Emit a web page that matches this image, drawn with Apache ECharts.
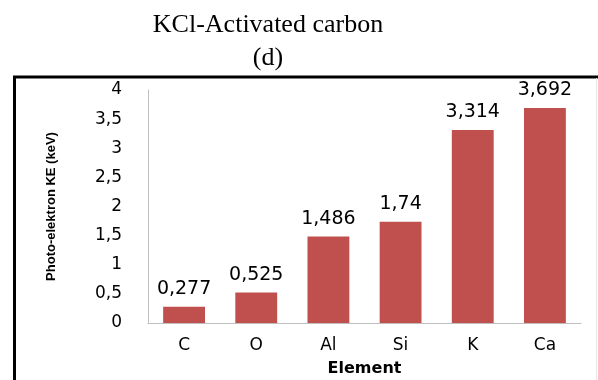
<!DOCTYPE html>
<html>
<head>
<meta charset="utf-8">
<script src="https://cdn.jsdelivr.net/npm/echarts@6/dist/echarts.min.js"></script>
<style>
  html, body { margin: 0; padding: 0; background: #fff; }
  #chart { width: 598px; height: 380px; }
</style>
</head>
<body>
<div id="chart"></div>
<script>
// Photo-electron kinetic energy per element, KCl-activated carbon
const elements = ['C', 'O', 'Al', 'Si', 'K', 'Ca'];
const energyKeV = [0.277, 0.525, 1.486, 1.74, 3.314, 3.692];
const yTicks = [0, 0.5, 1, 1.5, 2, 2.5, 3, 3.5, 4];

const comma = v => String(v).replace('.', ',');
const labelFont = '"DejaVu Sans", Verdana, sans-serif';
const serifFont = 'normal 26px "Liberation Serif", "Times New Roman", serif';

const chart = echarts.init(document.getElementById('chart'), null, { renderer: 'canvas' });
chart.setOption({
  animation: false,
  backgroundColor: '#ffffff',
  graphic: [
    // heading, two lines
    { type: 'text', x: 268, y: 12, style: { text: 'KCl-Activated carbon', font: serifFont, fill: '#000', textAlign: 'center', textVerticalAlign: 'top' } },
    { type: 'text', x: 268, y: 45, style: { text: '(d)', font: serifFont, fill: '#000', textAlign: 'center', textVerticalAlign: 'top' } },
    // outer frame: heavy top and left edges, faint right edge
    { type: 'line', shape: { x1: 13, y1: 77, x2: 598, y2: 77 }, style: { stroke: '#000', lineWidth: 3 } },
    { type: 'line', shape: { x1: 14.5, y1: 76, x2: 14.5, y2: 380 }, style: { stroke: '#000', lineWidth: 3 } },
    { type: 'line', shape: { x1: 596.5, y1: 78, x2: 596.5, y2: 380 }, style: { stroke: '#e6e6e6', lineWidth: 1 } }
  ],
  grid: { left: 148, right: 17, top: 90, bottom: 57, containLabel: false, outerBoundsMode: 'none' },
  xAxis: {
    type: 'category',
    data: elements,
    name: 'Element',
    nameLocation: 'middle',
    nameGap: 38,
    nameTextStyle: { fontFamily: labelFont, fontSize: 16, fontWeight: 'bold', color: '#000' },
    axisLine: { lineStyle: { color: '#bfbfbf', width: 1 } },
    axisTick: { show: false },
    axisLabel: { fontFamily: labelFont, fontSize: 17, color: '#000', margin: 14 }
  },
  yAxis: {
    type: 'value',
    min: yTicks[0],
    max: yTicks[yTicks.length - 1],
    interval: 0.5,
    name: 'Photo-elektron KE (keV)',
    nameLocation: 'middle',
    nameGap: 90,
    nameTextStyle: { fontFamily: '"Liberation Sans Narrow", "Liberation Sans", sans-serif', fontSize: 13, fontWeight: 'bold', color: '#000' },
    axisLine: { show: true, lineStyle: { color: '#bfbfbf', width: 1 } },
    axisTick: { show: false },
    splitLine: { show: false },
    axisLabel: { fontFamily: labelFont, fontSize: 17, color: '#000', margin: 26, formatter: v => comma(v) }
  },
  series: [{
    type: 'bar',
    data: energyKeV,
    barWidth: '58%',
    itemStyle: { color: '#c0504d' },
    label: {
      show: true,
      position: 'top',
      distance: 8,
      fontFamily: labelFont,
      fontSize: 19,
      color: '#000',
      formatter: p => comma(p.value)
    }
  }]
});
</script>
</body>
</html>
